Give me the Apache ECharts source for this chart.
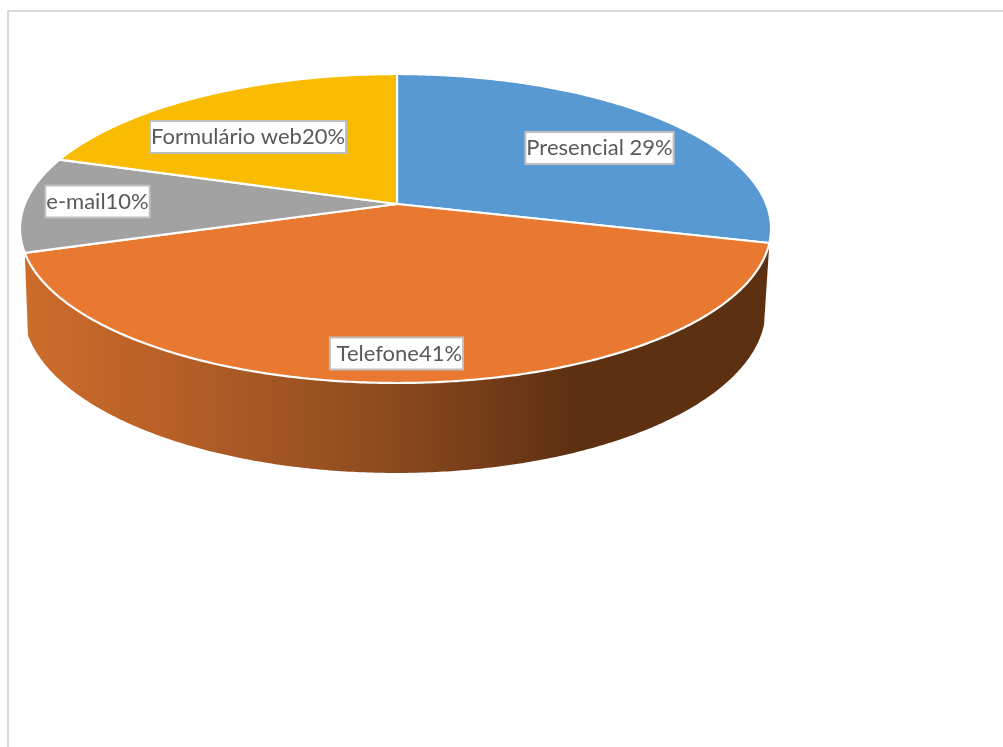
<!DOCTYPE html>
<html>
<head>
<meta charset="utf-8">
<style>html,body{margin:0;padding:0;background:#fff}#chart{width:1003px;height:747px}</style>
<script src="https://cdn.jsdelivr.net/npm/echarts@6/dist/echarts.min.js"></script>
</head>
<body>
<div id="chart"></div>
<script>
// Shares of service requests by contact channel, clockwise from twelve o'clock.
const categories = ['Presencial ', ' Telefone', 'e-mail', 'Formulário web'];
const shares = [29, 41, 10, 20];
const sliceColors = ['#5898d3', '#e97830', '#a2a2a2', '#f9bc00'];
const labelCenters = [[599.5, 148], [396.5, 353.5], [97.5, 201.5], [248, 137]];

// Perspective projection of the tilted disc: its centre sits above the middle
// of the visible ellipse because the near edge looks larger than the far edge.
const TILT = 0.1586;
const topRim = { x: 397, y: 204, rxLeft: 372.2, rxRight: 369.3, ry: 150.6 };
const lowerRim = { x: 396, y: 283.4, rxLeft: 368, rxRight: 365, ry: 159.5 };

function project(rim, degrees) {
  const a = degrees * Math.PI / 180;
  const across = Math.sin(a);
  const toward = -Math.cos(a);
  const w = 1 - TILT * toward;
  const rx = across < 0 ? rim.rxLeft : rim.rxRight;
  return [rim.x + rx * across / w, rim.y + rim.ry * toward / w];
}

function arc(rim, from, to) {
  const pts = [];
  const steps = Math.max(2, Math.ceil(Math.abs(to - from) * 2));
  for (let i = 0; i <= steps; i++) {
    pts.push(project(rim, from + (to - from) * i / steps));
  }
  return pts;
}

const total = shares.reduce((s, v) => s + v, 0);
let running = 0;
const sliceData = shares.map((v, i) => {
  const row = [v, running, i];
  running += v;
  return row;
});

function renderSlice(params, api) {
  const start = api.value(1) / total * 360;
  const end = start + api.value(0) / total * 360;
  const idx = api.value(2);
  const children = [];

  // Only the slice facing the viewer shows a side wall.
  if (start < 180 && end > 180) {
    const wallPts = arc(topRim, start, end).concat(arc(lowerRim, end, start));
    children.push({
      type: 'polygon',
      z2: 1,
      shape: { points: wallPts },
      style: {
        fill: new echarts.graphic.LinearGradient(28, 0, 570, 0, [
          { offset: 0, color: '#cc6c2b' },
          { offset: 0.25, color: '#b86027' },
          { offset: 0.68, color: '#8a4a1e' },
          { offset: 0.9, color: '#6d3816' },
          { offset: 1, color: '#5e3012' }
        ], true)
      }
    });
  }

  children.push({
    type: 'polygon',
    z2: 2,
    shape: { points: [[topRim.x, topRim.y]].concat(arc(topRim, start, end)) },
    style: { fill: sliceColors[idx], stroke: '#ffffff', lineWidth: 2.2, lineJoin: 'round' }
  });

  children.push({
    type: 'text',
    z2: 10,
    x: labelCenters[idx][0],
    y: labelCenters[idx][1],
    style: {
      text: categories[idx] + api.value(0) + '%',
      font: '22px Lato, "Open Sans", sans-serif',
      fill: '#595959',
      align: 'center',
      verticalAlign: 'middle',
      backgroundColor: '#ffffff',
      borderColor: '#bfbfbf',
      borderWidth: 2,
      padding: [4, 0, 4, 0]
    }
  });

  return { type: 'group', children };
}

const chart = echarts.init(document.getElementById('chart'), null, { renderer: 'canvas' });
chart.setOption({
  animation: false,
  backgroundColor: '#ffffff',
  graphic: [
    { type: 'line', shape: { x1: 8, y1: 11, x2: 1003, y2: 11 }, style: { stroke: '#d9d9d9', lineWidth: 2 } },
    { type: 'line', shape: { x1: 8, y1: 10, x2: 8, y2: 747 }, style: { stroke: '#d9d9d9', lineWidth: 2 } }
  ],
  series: [{
    type: 'custom',
    coordinateSystem: 'none',
    renderItem: renderSlice,
    data: sliceData,
    silent: true
  }]
});
</script>
</body>
</html>
